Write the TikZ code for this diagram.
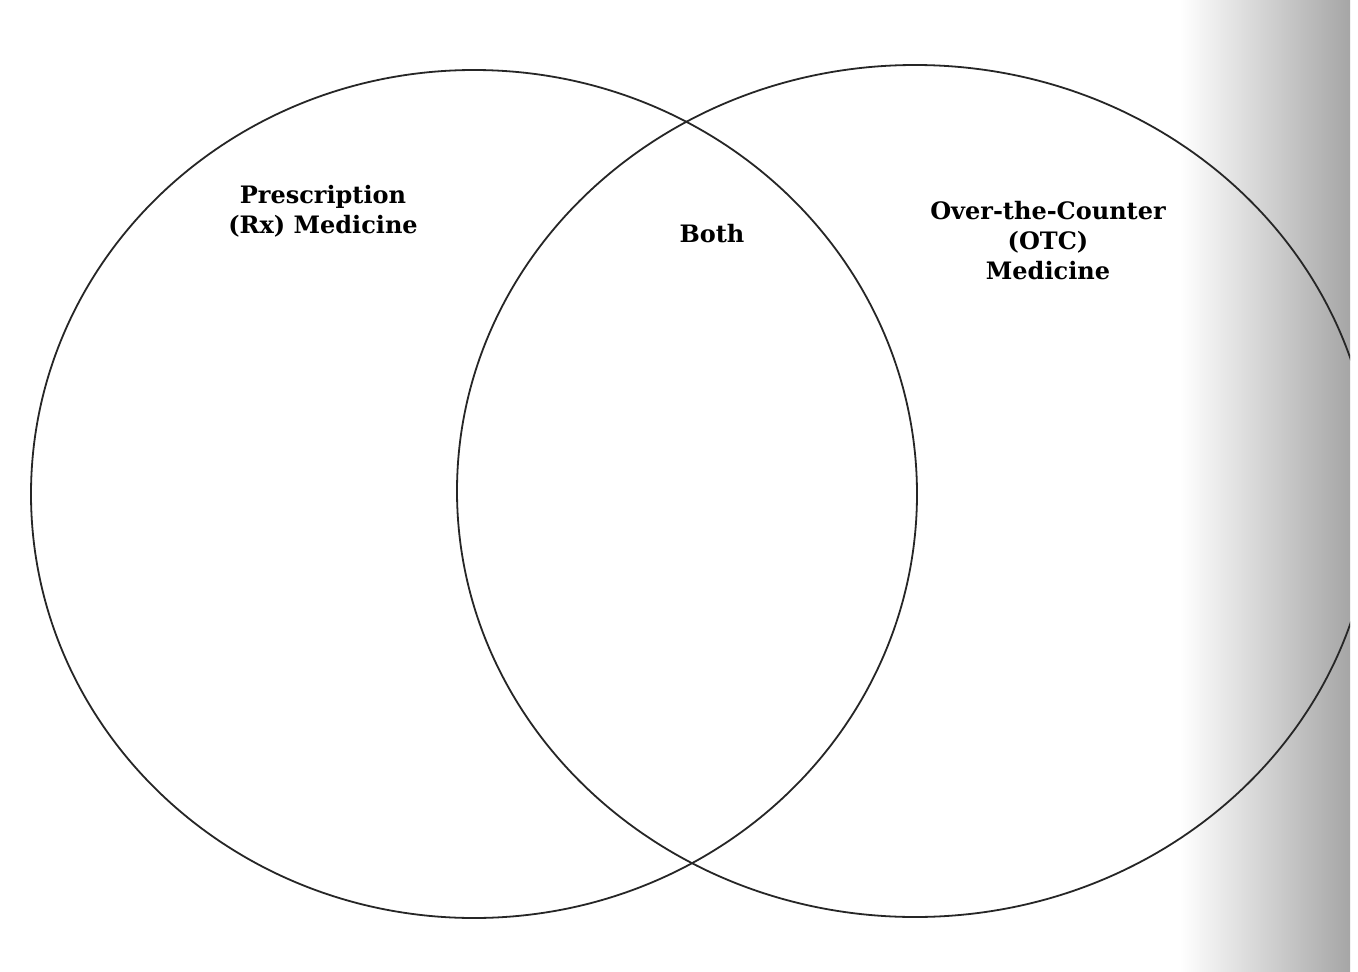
\documentclass[tikz,border=0pt]{standalone}
\usepackage{fontspec}
\setmainfont{DejaVu Serif}
\begin{document}
\begin{tikzpicture}[x=1pt,y=-1pt,
  ring/.style={draw=black!85, line width=1.8pt},
  label/.style={font=\bfseries\fontsize{24}{30}\selectfont, align=center, text=black, inner sep=0pt}]
\useasboundingbox (0,0) rectangle (1358,972);
\fill[white] (0,0) rectangle (1358,972);
\shade[left color=white, right color=black!35] (1180,0) rectangle (1350,972);
\draw[ring] (474,494) ellipse [x radius=443pt, y radius=424pt];
\begin{scope}
  \clip (0,0) rectangle (1350,972);
  \draw[ring] (915,491) ellipse [x radius=458pt, y radius=426pt];
\end{scope}
\node[label] (rx) at (323,211) {Prescription\\(Rx) Medicine};
\node[label] (both) at (712,234) {Both};
\node[label] (otc) at (1048,241) {Over-the-Counter\\(OTC)\\Medicine};
\end{tikzpicture}
\end{document}
